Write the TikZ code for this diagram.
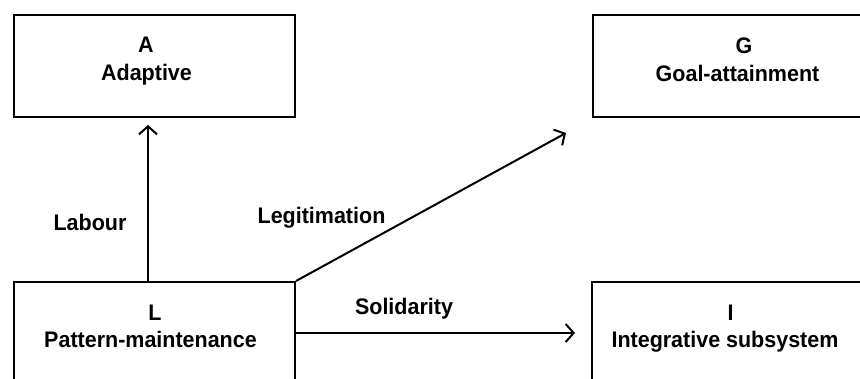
\documentclass[tikz,border=0pt]{standalone}
\usepackage{fontspec}
\setmainfont[FakeStretch=0.955]{Liberation Sans}
\usetikzlibrary{arrows.meta}
\begin{document}
\begin{tikzpicture}[x=1pt,y=-1pt,
  box/.style={draw=black,line width=2pt,rectangle,inner sep=0pt,fill=none},
  lbl/.style={anchor=base,inner sep=0pt,font=\fontsize{22.5}{28}\selectfont\bfseries},
  arr/.style={line width=2pt,-{Straight Barb[length=8pt,width=18pt,line width=2pt]}}]
\useasboundingbox[fill=white] (0,0) rectangle (860,379);
\clip (0,0) rectangle (860,379);
% boxes
\node[box,minimum width=281pt,minimum height=102pt] (A) at (154.5,66) {};
\node[box,minimum width=287pt,minimum height=102pt] (G) at (736.5,66) {};
\node[box,minimum width=281pt,minimum height=118pt] (L) at (154.5,341) {};
\node[box,minimum width=288pt,minimum height=118pt] (I) at (736,341) {};
% box texts
\node[lbl] (At) at (146,53) {A};
\node[lbl] (An) at (146.5,81) {Adaptive};
\node[lbl] (Gt) at (744,54) {G};
\node[lbl] (Gn) at (737.5,82) {Goal-attainment};
\node[lbl] (Lt) at (155,321) {L};
\node[lbl] (Ln) at (150.5,348) {Pattern-maintenance};
\node[lbl] (It) at (730.5,321) {I};
\node[lbl] (In) at (725,348) {Integrative subsystem};
% connector labels
\node[lbl] (lab) at (90,231) {Labour};
\node[lbl] (leg) at (321.5,224) {Legitimation};
\node[lbl] (sol) at (404,315) {Solidarity};
% connector ends
\coordinate (labtip) at (148,125);
\coordinate (legtip) at (566,133);
\coordinate (soltip) at (575,333);
\draw[arr] (L.north -| labtip) -- (labtip);
\draw[arr] (L.north east) -- (legtip);
\draw[arr] (L.east |- soltip) -- (soltip);
\end{tikzpicture}
\end{document}
